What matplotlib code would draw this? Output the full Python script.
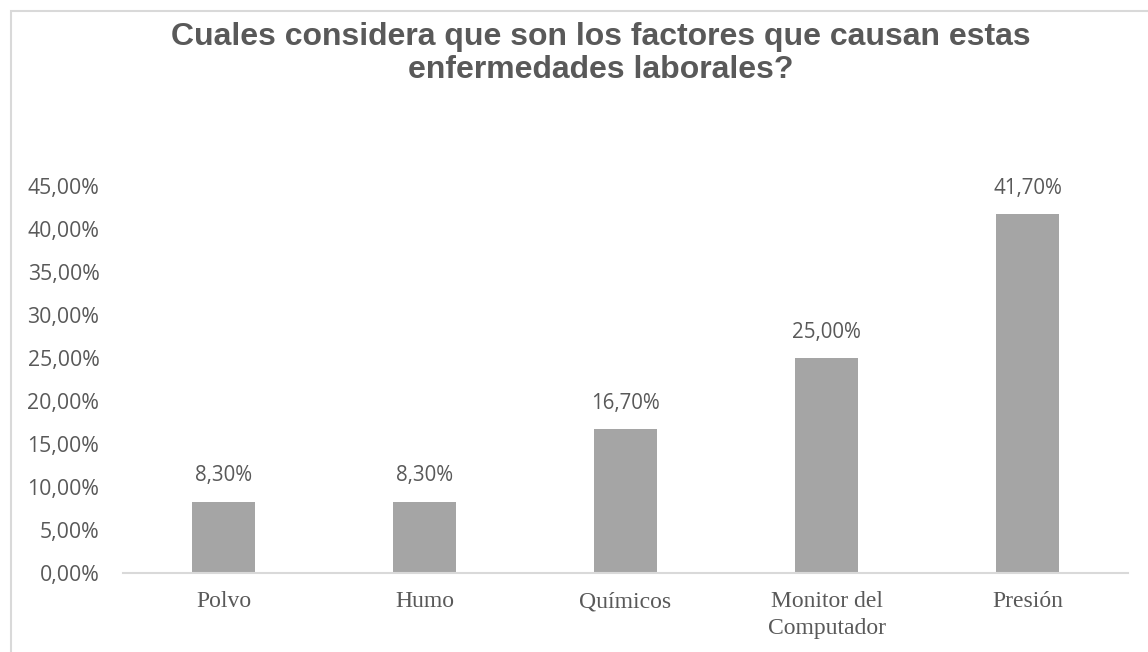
import matplotlib
matplotlib.use("Agg")
import matplotlib.pyplot as plt
from matplotlib.patches import Rectangle

# chart data
categories = ["Polvo", "Humo", "Químicos", "Monitor del\nComputador", "Presión"]
values = [8.3, 8.3, 16.7, 25.0, 41.7]
yticks = [0, 5, 10, 15, 20, 25, 30, 35, 40, 45]

text_col = "#595959"

fig = plt.figure(figsize=(11.48, 6.52), dpi=100)
ax = fig.add_axes([0.1071, 0.1212, 0.8755, 0.5935])

# outer chart border (cut off at right and bottom as in the original)
fig.patches.append(Rectangle((11 / 1148, -0.05), 1.1, 0.983 + 0.05,
                             transform=fig.transFigure, fill=False,
                             edgecolor="#D9D9D9", linewidth=1.5))

x = range(len(categories))
bars = ax.bar(x, values, width=0.31, color="#A5A5A5")

for b, v in zip(bars, values):
    ax.annotate(f"{v:.2f}%".replace(".", ","),
                (b.get_x() + b.get_width() / 2, v),
                xytext=(0, 11), textcoords="offset points",
                ha="center", va="bottom", fontsize=14.8,
                family="Open Sans", color=text_col)

ax.set_xlim(-0.5, len(categories) - 0.5)
ax.set_ylim(0, 45)
ax.set_yticks(yticks)
ax.set_yticklabels([f"{t:.2f}%".replace(".", ",") for t in yticks],
                   family="Open Sans", fontsize=15.3, color=text_col)
ax.set_xticks(list(x))
ax.set_xticklabels(categories, family="Liberation Serif", fontsize=17,
                   color=text_col, linespacing=1.4)
ax.tick_params(axis="both", length=0)
ax.tick_params(axis="y", pad=17)
ax.tick_params(axis="x", pad=13)

for s in ["top", "right", "left"]:
    ax.spines[s].set_visible(False)
ax.spines["bottom"].set_color("#D9D9D9")
ax.spines["bottom"].set_linewidth(1.5)

fig.text(0.5235, 0.918, "Cuales considera que son los factores que causan estas\nenfermedades laborales?",
         ha="center", va="center", fontsize=23, fontweight="bold",
         family="Liberation Sans", color=text_col, linespacing=1.12)

fig.savefig("out.png", dpi=100)
